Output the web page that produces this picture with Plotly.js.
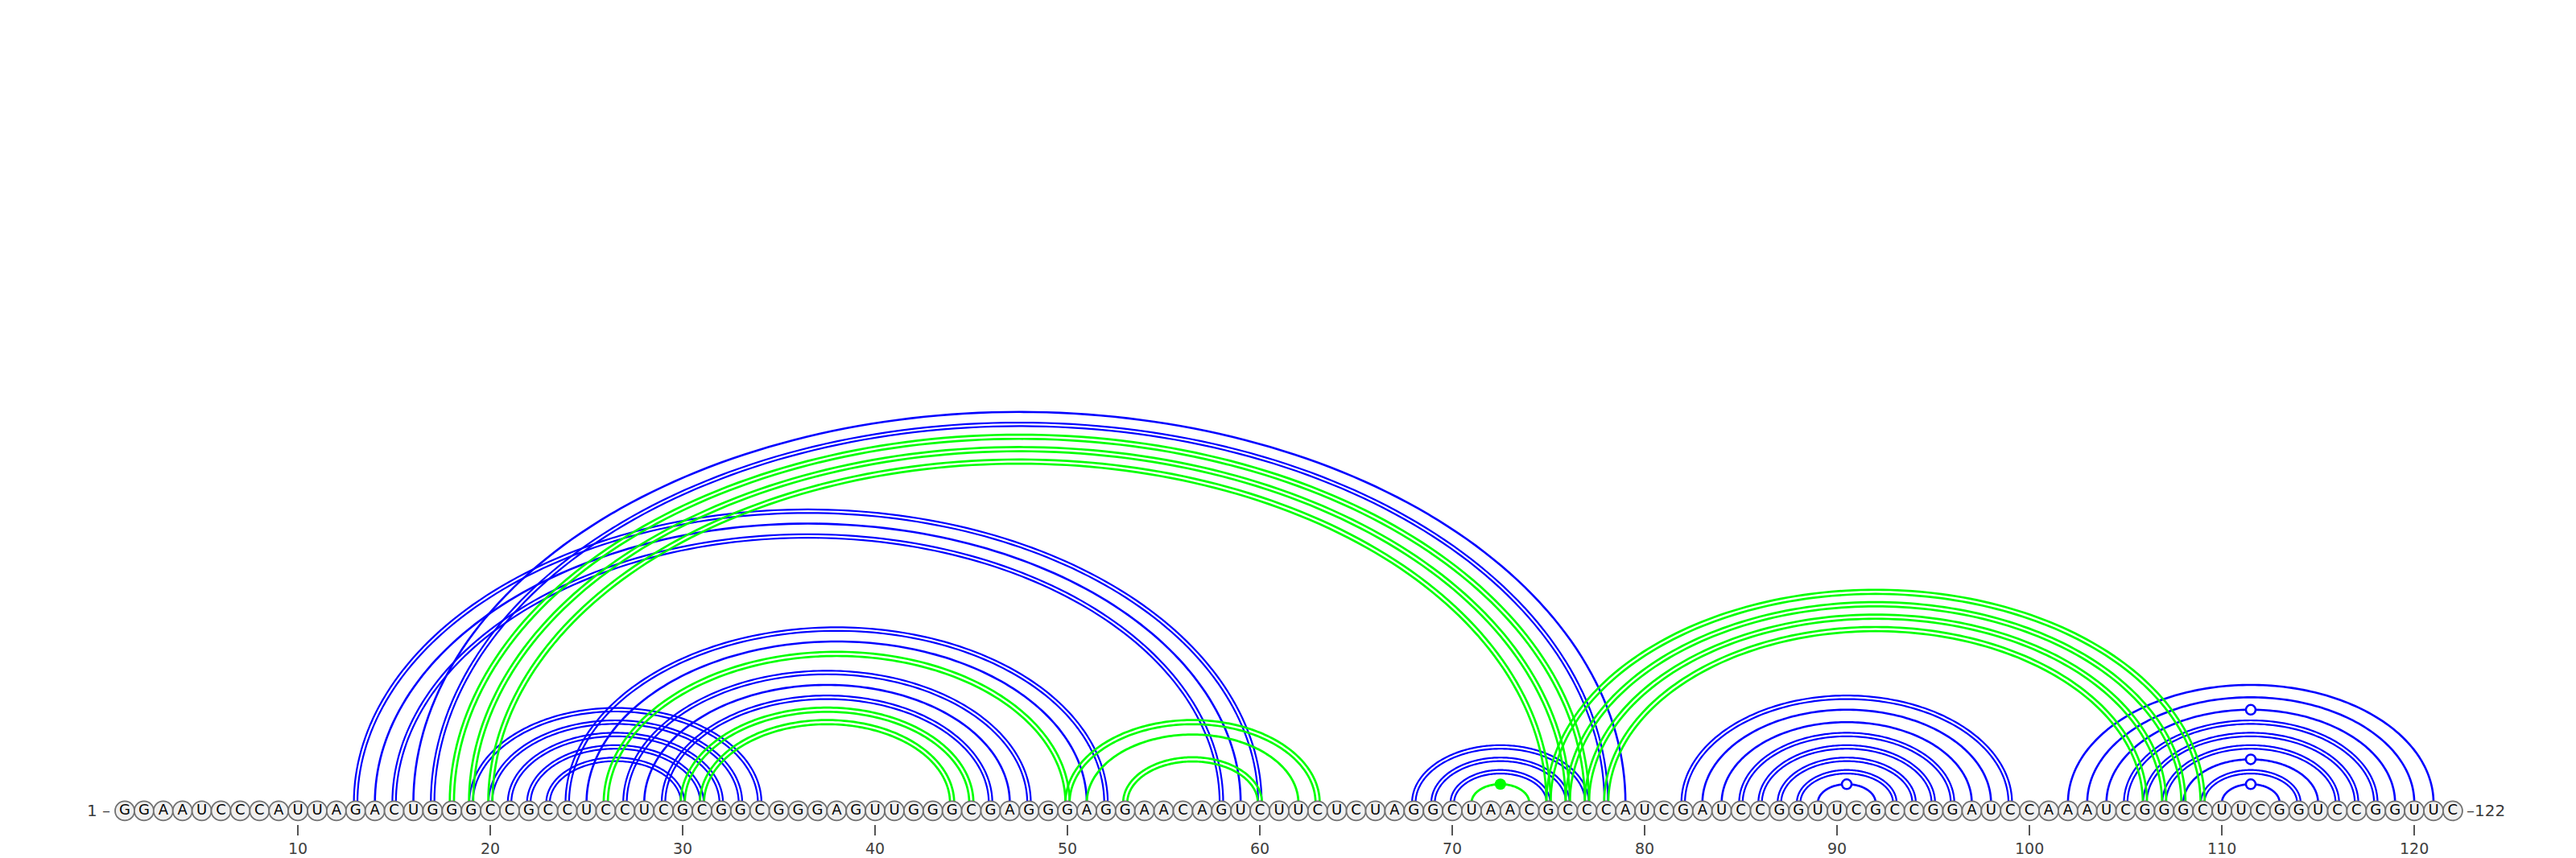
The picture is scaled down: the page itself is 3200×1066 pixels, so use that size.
<!DOCTYPE html>
<html>
<head>
<meta charset="utf-8">
<script src="https://cdn.plot.ly/plotly-3.0.1.min.js"></script>
<style>
  html, body { margin: 0; padding: 0; background: #ffffff; }
  #chart { width: 3200px; height: 1066px; }
</style>
</head>
<body>
<div id="chart"></div>
<script>
// ---------------- data ----------------
const sequenceBlocks = [
  "GGAAUCCCAU", "UAGACUGGGC", "CGCCUCCUCG", "CGGCGGGAGU",
  "UGGGCGAGGG", "AGGAACAGUC", "UUCUCUAGGC", "UAACGCCCAU",
  "CGAUCCGGUU", "CGCCGGAUCC", "AAAUCGGGCU", "UCGGUCCGGU", "UC"
];
const sequence = sequenceBlocks.join("");

// base pairs of the main (blue) structure
const bluePairs = [
  [13, 60], [14, 59], [15, 58],
  [16, 79], [17, 78],
  [19, 34], [20, 33], [21, 32], [22, 31], [23, 30],
  [24, 52], [25, 51], [27, 48], [28, 47], [29, 46],
  [68, 77], [69, 76], [70, 75],
  [82, 99], [83, 98], [84, 97], [85, 96], [86, 95], [87, 94], [88, 93], [89, 92],
  [102, 121], [103, 120], [104, 119], [105, 118], [106, 117], [107, 116],
  [108, 115], [109, 114], [110, 113]
];

// auxiliary (green) base pairs
const greenPairs = [
  [18, 77], [19, 76], [20, 75],
  [26, 50], [30, 45], [31, 44],
  [50, 63], [51, 62], [53, 60],
  [71, 74],
  [75, 109], [76, 108], [77, 107], [78, 106]
];

const tickPositions = [10, 20, 30, 40, 50, 60, 70, 80, 90, 100, 110, 120];

// ---------------- geometry / style ----------------
const NT_PX = 23.9;          // pixels per nucleotide
const ARC_RATIO = 0.645;     // arc height / half-width
const BASE_Y = -10;          // nucleotide row (px above arc baseline)
const BLUE = "#0000ff";
const GREEN = "#00ff00";
const STROKE = {
  blue:  { single: 2.6, double: 2.2, off: 2.2 },
  green: { single: 2.8, double: 2.7, off: 2.6 }
};

function pairType(i, j) {
  const p = sequence[i - 1] + sequence[j - 1];
  if (p === "GC" || p === "CG") return "double";
  if (p === "AU" || p === "UA") return "single";
  if (p === "GU" || p === "UG") return "wobble";
  return "noncanon";
}

function arcPoints(i, j, offPx, xs, ys) {
  const mid = (i + j) / 2;
  const semi = (j - i) / 2 + offPx / NT_PX;
  const h = ARC_RATIO * (j - i) / 2 * NT_PX + offPx;
  const n = 140;
  for (let k = 0; k <= n; k++) {
    const t = Math.PI * k / n;
    xs.push(mid - semi * Math.cos(t));
    ys.push(h * Math.sin(t));
  }
  xs.push(null); ys.push(null);
}

function buildTraces(pairs, color, st) {
  const sx = [], sy = [], dx = [], dy = [];
  const hollowX = [], hollowY = [], fillX = [], fillY = [];
  pairs.forEach(([i, j]) => {
    const t = pairType(i, j);
    if (t === "double") {
      arcPoints(i, j, -st.off, dx, dy);
      arcPoints(i, j, st.off, dx, dy);
    } else {
      arcPoints(i, j, 0, sx, sy);
      const h = ARC_RATIO * (j - i) / 2 * NT_PX;
      if (t === "wobble") { hollowX.push((i + j) / 2); hollowY.push(h); }
      if (t === "noncanon") { fillX.push((i + j) / 2); fillY.push(h); }
    }
  });
  return [
    { type: "scatter", mode: "lines", x: sx, y: sy, hoverinfo: "skip",
      line: { color: color, width: st.single, simplify: false }, connectgaps: false },
    { type: "scatter", mode: "lines", x: dx, y: dy, hoverinfo: "skip",
      line: { color: color, width: st.double, simplify: false }, connectgaps: false },
    { type: "scatter", mode: "markers", x: hollowX, y: hollowY, hoverinfo: "skip",
      marker: { size: 12, color: "#ffffff", line: { color: color, width: 2.5 } } },
    { type: "scatter", mode: "markers", x: fillX, y: fillY, hoverinfo: "skip",
      marker: { size: 14, color: color, line: { width: 0 } } }
  ];
}

const positions = Array.from(sequence, (_, k) => k + 1);
const letters = Array.from(sequence);

const traces = [
  ...buildTraces(bluePairs, BLUE, STROKE.blue),
  ...buildTraces(greenPairs, GREEN, STROKE.green),
  {
    type: "scatter", mode: "markers+text",
    x: positions, y: positions.map(() => BASE_Y),
    text: letters, textposition: "middle center",
    textfont: { family: "DejaVu Sans", size: 18, color: "#000000" },
    marker: { size: 24, color: "#f0f0f0", line: { color: "#707070", width: 1.8 } },
    hoverinfo: "skip"
  }
];

const layout = {
  width: 3200, height: 1066,
  margin: { l: 0, r: 0, t: 0, b: 42 },
  paper_bgcolor: "#ffffff", plot_bgcolor: "#ffffff",
  showlegend: false,
  xaxis: {
    range: [1 - 155 / NT_PX, 1 + (3200 - 155) / NT_PX],
    showgrid: false, zeroline: false, showline: false,
    tickmode: "array", tickvals: tickPositions, ticktext: tickPositions.map(String),
    ticks: "outside", ticklen: 13, tickwidth: 1.5, tickcolor: "#555555",
    tickfont: { family: "DejaVu Sans", size: 19, color: "#404040" },
    fixedrange: true
  },
  yaxis: {
    range: [-26.6, 997.4], visible: false, fixedrange: true
  },
  annotations: [
    { x: 1 - 16 / NT_PX, y: BASE_Y, xref: "x", yref: "y", text: "1 –",
      xanchor: "right", yanchor: "middle", showarrow: false,
      font: { family: "DejaVu Sans", size: 20, color: "#3a3a3a" } },
    { x: sequence.length + 15 / NT_PX, y: BASE_Y, xref: "x", yref: "y",
      text: "–" + sequence.length,
      xanchor: "left", yanchor: "middle", showarrow: false,
      font: { family: "DejaVu Sans", size: 20, color: "#3a3a3a" } }
  ]
};

Plotly.newPlot("chart", traces, layout, { displayModeBar: false, staticPlot: true });
</script>
</body>
</html>
